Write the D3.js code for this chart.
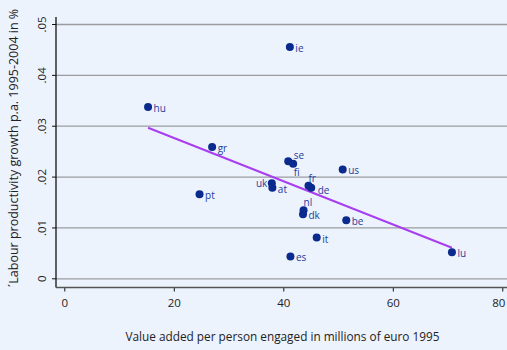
<!DOCTYPE html>
<html><head><meta charset="utf-8">
<script src="https://cdn.jsdelivr.net/npm/d3@7"></script>
<style>
html,body{margin:0;padding:0;background:#edf3fd;}
svg{display:block;}
text{font-family:"Open Sans","Lato",sans-serif;}
</style></head><body>
<svg id="chart" width="507" height="350"></svg>
<script>
const countries = ["ie","hu","gr","se","fi","us","uk","at","fr","de","pt","nl","dk","be","it","es","lu"];
const valueAdded = [41.2,15.3,27.0,40.9,41.8,50.85,37.9,38.0,44.6,45.1,24.7,43.7,43.6,51.5,46.1,41.3,70.8];
const productivityGrowth = [0.0456,0.0338,0.0259,0.0231,0.0226,0.0215,0.0188,0.0179,0.0183,0.0179,0.0166,0.0135,0.0127,0.0115,0.0081,0.0044,0.0052];
const labelClock = [3,3,3,2,6,3,9,3,12,4,3,12,3,3,3,3,3];
const fitX = [15.3,70.8];
const fitY = [0.0297,0.0061];
const xTicks = [0,20,40,60,80];
const yTicks = [0,0.01,0.02,0.03,0.04,0.05];
const yTickLabels = ["0",".01",".02",".03",".04",".05"];
const xTitle = "Value added per person engaged in millions of euro 1995";
const yTitle = "\u00B4Labour productivity growth p.a. 1995-2004 in %";

const svg = d3.select("#chart");
const x = d3.scaleLinear().domain([0,80]).range([64.3,502.3]);
const y = d3.scaleLinear().domain([0,0.05]).range([278.8,24.5]);
const axisX0 = 56, axisY0 = 287.5, plotTop = 17, plotRight = 507;

// gridlines
svg.append("g").selectAll("line").data(yTicks).join("line")
  .attr("x1",axisX0).attr("x2",plotRight)
  .attr("y1",d=>y(d)).attr("y2",d=>y(d))
  .attr("stroke","#9a9c9f").attr("stroke-width",1.3);

// y axis
const yAxis = d3.axisLeft(y).tickValues(yTicks).tickFormat((d,i)=>yTickLabels[i]).tickSize(4).tickPadding(6);
const gy = svg.append("g").attr("transform",`translate(${axisX0},0)`).call(yAxis);
gy.select(".domain").remove();
gy.append("line").attr("x1",0).attr("x2",0).attr("y1",plotTop).attr("y2",axisY0).attr("stroke","#111").attr("stroke-width",1.3);
gy.selectAll(".tick").attr("transform",null);
gy.selectAll(".tick line").attr("stroke","#111").attr("y1",d=>y(d)).attr("y2",d=>y(d));
gy.selectAll(".tick text").attr("fill","#222").style("font-size","11.5px")
  .attr("x",-14).attr("y",d=>y(d)).attr("dy","0.35em")
  .attr("text-anchor","middle")
  .attr("transform",d=>`rotate(-90,-14,${y(d)})`);

// x axis
const xAxis = d3.axisBottom(x).tickValues(xTicks).tickSize(4).tickPadding(7);
const gx = svg.append("g").attr("transform",`translate(0,${axisY0})`).call(xAxis);
gx.select(".domain").remove();
gx.append("line").attr("x1",axisX0).attr("x2",plotRight).attr("y1",0).attr("y2",0).attr("stroke","#555").attr("stroke-width",1.3);
gx.selectAll(".tick line").attr("stroke","#111");
gx.selectAll(".tick text").attr("fill","#222").style("font-size","11.5px")
  .attr("x",(d,i)=> i===xTicks.length-1 ? -4 : 0);

// titles
svg.append("text").attr("x",282.5).attr("y",337).attr("dy","0.35em").attr("text-anchor","middle")
  .attr("fill","#222").style("font-size","11.8px").text(xTitle);
svg.append("text").attr("transform","translate(14,148) rotate(-90)").attr("dy","0.35em").attr("text-anchor","middle")
  .attr("fill","#222").style("font-size","12.5px").text(yTitle);

// fit line
svg.append("line").attr("x1",x(fitX[0])).attr("y1",y(fitY[0])).attr("x2",x(fitX[1])).attr("y2",y(fitY[1]))
  .attr("stroke","#a83ef0").attr("stroke-width",2);

// points
const pts = countries.map((c,i)=>({c,vx:valueAdded[i],vy:productivityGrowth[i],clock:labelClock[i]}));
svg.append("g").selectAll("circle").data(pts).join("circle")
  .attr("cx",d=>x(d.vx)).attr("cy",d=>y(d.vy)).attr("r",4).attr("fill","#0a2a8e");

const off = {3:[5.5,1.5,"start"],2:[5.5,-6,"start"],6:[0.5,8.5,"start"],9:[-4.5,0.5,"end"],12:[0,-7.5,"start"],4:[6.5,3,"start"]};
svg.append("g").selectAll("text").data(pts).join("text")
  .attr("x",d=>x(d.vx)+off[d.clock][0]).attr("y",d=>y(d.vy)+off[d.clock][1])
  .attr("dy","0.35em").attr("text-anchor",d=>off[d.clock][2])
  .attr("fill","#1f3d9c").style("font-size","10px").text(d=>d.c);
</script></body></html>
